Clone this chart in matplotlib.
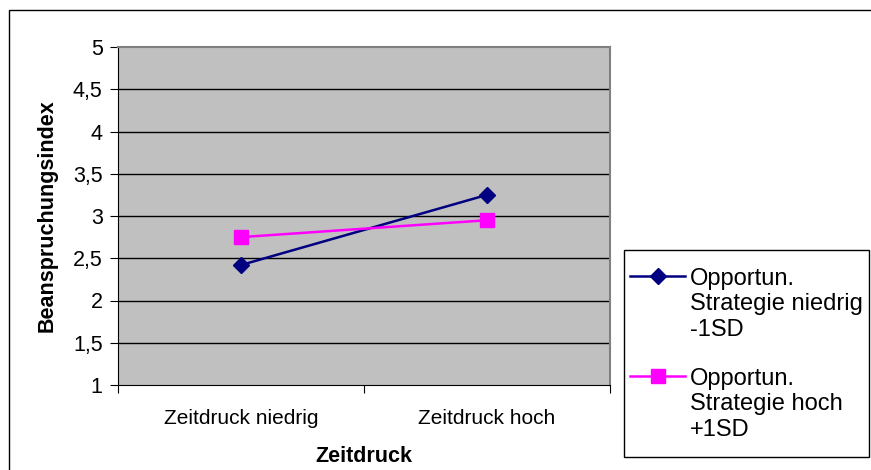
import matplotlib
matplotlib.use("Agg")
import matplotlib.pyplot as plt
from matplotlib.patches import Rectangle

plt.rcParams['font.family'] = ['Liberation Sans', 'DejaVu Sans']

categories = ["Zeitdruck niedrig", "Zeitdruck hoch"]
series_low = [2.42, 3.25]
series_high = [2.75, 2.95]
label_low = "Opportun.\nStrategie niedrig\n-1SD"
label_high = "Opportun.\nStrategie hoch\n+1SD"
yticks = [1, 1.5, 2, 2.5, 3, 3.5, 4, 4.5, 5]
ytick_labels = ["1", "1,5", "2", "2,5", "3", "3,5", "4", "4,5", "5"]

W, H = 871, 470
fig = plt.figure(figsize=(W / 100, H / 100), dpi=100)
fig.patch.set_facecolor("white")

# outer chart border (cropped on right/bottom)
fig.add_artist(Rectangle((9 / W, -0.1), 1.2, 1 - 10 / H + 0.1, transform=fig.transFigure,
                         fill=False, edgecolor="black", linewidth=1.0))

ax = fig.add_axes([118 / W, 1 - 385 / H, (610 - 118) / W, (385 - 47) / H])
ax.set_facecolor("#C0C0C0")

x = [0.5, 1.5]
ax.plot(x, series_low, color="#000080", linewidth=1.8, marker="D", markersize=8,
        markerfacecolor="#000080", markeredgecolor="#000080", label=label_low, zorder=3)
ax.plot(x, series_high, color="#FF00FF", linewidth=1.8, marker="s", markersize=9.5,
        markerfacecolor="#FF00FF", markeredgecolor="#FF00FF", label=label_high, zorder=3)

ax.set_xlim(0, 2)
ax.set_ylim(1, 5)
ax.set_yticks(yticks)
ax.set_yticklabels(ytick_labels, fontsize=15.5)
for yv in yticks[1:-1]:
    ax.axhline(yv, color="black", linewidth=1, zorder=1)

ax.set_xticks([0, 1, 2])
ax.set_xticklabels([])
ax.set_xticks(x, minor=True)
ax.set_xticklabels(categories, minor=True, fontsize=15)
ax.tick_params(axis="x", which="minor", length=0, pad=17)
ax.tick_params(axis="x", which="major", direction="out", length=6, color="black")
ax.tick_params(axis="y", direction="out", length=6, color="black", pad=5)

for side in ["top", "right"]:
    ax.spines[side].set_color("#808080")
    ax.spines[side].set_linewidth(1.5)
ax.spines["left"].set_color("black")
ax.spines["bottom"].set_color("black")

ax.set_xlabel("Zeitdruck", fontsize=15.5, fontweight="bold", labelpad=13)
ax.set_ylabel("Beanspruchungsindex", fontsize=15.5, fontweight="bold", labelpad=11)

# legend frame
fig.add_artist(Rectangle((624 / W, 1 - 457 / H), (869 - 624) / W, (457 - 250) / H,
                         transform=fig.transFigure, fill=True, facecolor="white",
                         edgecolor="black", linewidth=1.0, zorder=4))
leg = fig.legend(loc="upper left", bbox_to_anchor=(630 / W, 1 - 268 / H),
                 fontsize=17, frameon=False, borderaxespad=0, borderpad=0,
                 handlelength=2.35, handletextpad=0.2, labelspacing=1.15)
leg.set_zorder(5)
for col in leg._legend_handle_box.get_children():
    for row in col.get_children():
        row.align = "top"
for t in leg.get_texts():
    t.set_linespacing(1.2)

fig.savefig("out.png", dpi=100)
